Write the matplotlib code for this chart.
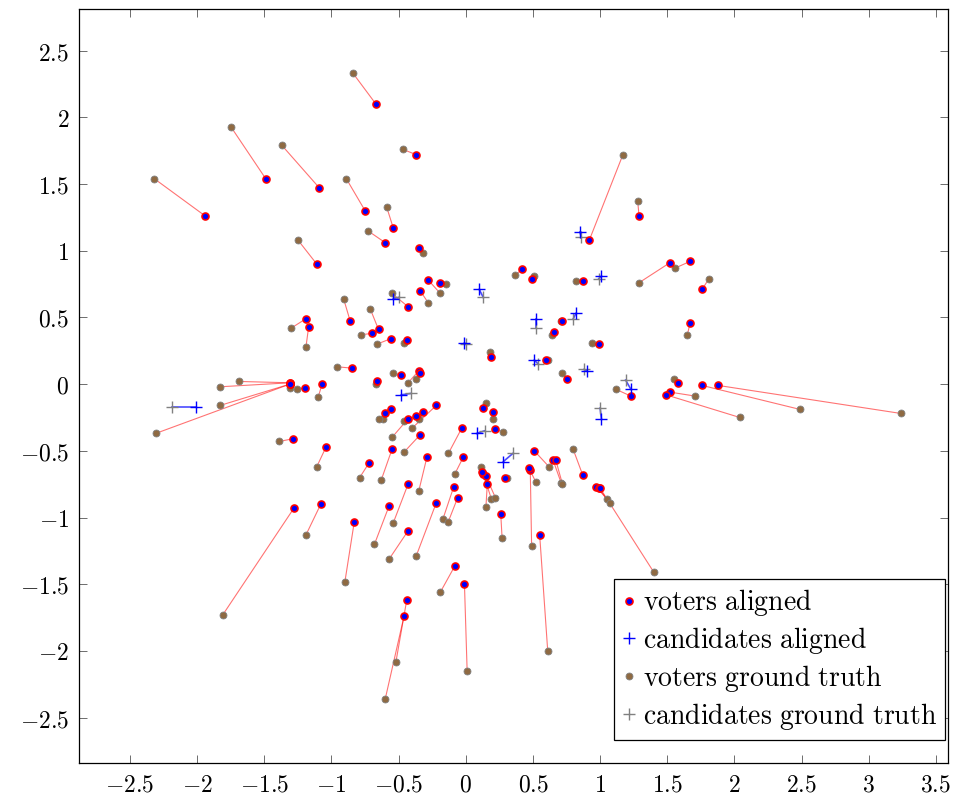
import numpy as np
import matplotlib
matplotlib.use("Agg")
import matplotlib.pyplot as plt
from matplotlib.ticker import FuncFormatter, MultipleLocator

plt.rcParams["mathtext.fontset"] = "cm"

# voters: aligned positions and ground truth positions (pairwise)
voters_aligned_x = [-1.94, -1.49, -1.09, -1.11, -0.67, -0.37, -0.75, -0.54, -0.60, -0.35,
                    -0.28, -0.19, -0.34, -0.43, -0.86, -0.65, -0.70, -0.56, -0.44, -1.19,
                    -1.17, -0.85, -1.31, -1.31, -1.31, -1.31, -1.31, -1.20, -1.07, -1.29,
                    -1.04, -1.08, -1.28, -0.48, -0.35, -0.34, -0.66, -0.56, -0.60, -0.22,
                    -0.32, -0.43, -0.37, -0.34, -0.55, -0.72, -0.29, -0.43, -0.22, -0.57,
                    -0.43, -0.83, -0.44, -0.46, -0.09, -0.06, -0.03, -0.02, -0.08, -0.01,
                    0.16, 0.13, 0.15, 0.12, 0.29, 0.26, 0.55, 0.48, 0.47, 0.51,
                    0.65, 0.67, 0.87, 0.97, 0.99, 1.00, 0.22, 0.13, 0.20, 0.19,
                    0.92, 1.29, 1.52, 1.67, 1.76, 1.67, 0.42, 0.49, 0.87, 0.66,
                    0.72, 0.99, 0.60, 0.75, 1.23, 1.58, 1.52, 1.49, 1.76, 1.88]
voters_aligned_y = [1.26, 1.54, 1.47, 0.90, 2.10, 1.72, 1.30, 1.17, 1.06, 1.02,
                    0.78, 0.76, 0.70, 0.58, 0.47, 0.41, 0.38, 0.34, 0.33, 0.49,
                    0.43, 0.12, 0.01, 0.01, 0.00, 0.00, 0.00, -0.03, 0.00, -0.41,
                    -0.47, -0.90, -0.93, 0.07, 0.10, 0.08, 0.02, -0.19, -0.22, -0.16,
                    -0.21, -0.26, -0.24, -0.38, -0.49, -0.59, -0.55, -0.75, -0.89, -0.91,
                    -1.10, -1.03, -1.62, -1.74, -0.77, -0.85, -0.33, -0.55, -1.36, -1.50,
                    -0.75, -0.67, -0.69, -0.66, -0.70, -0.97, -1.13, -0.64, -0.63, -0.50,
                    -0.57, -0.57, -0.68, -0.77, -0.78, -0.78, -0.34, -0.18, -0.21, 0.20,
                    1.08, 1.26, 0.91, 0.92, 0.71, 0.46, 0.86, 0.79, 0.77, 0.39,
                    0.47, 0.30, 0.18, 0.04, -0.09, 0.01, -0.06, -0.08, -0.01, -0.01]
voters_truth_x = [-2.32, -1.75, -1.37, -1.25, -0.84, -0.47, -0.89, -0.59, -0.73, -0.32,
                  -0.19, -0.15, -0.28, -0.55, -0.91, -0.71, -0.78, -0.66, -0.46, -1.30,
                  -1.19, -0.96, -1.69, -1.83, -1.83, -2.31, -1.31, -1.26, -1.10, -1.39,
                  -1.11, -1.19, -1.81, -0.54, -0.43, -0.37, -0.67, -0.62, -0.65, -0.40,
                  -0.35, -0.55, -0.46, -0.46, -0.63, -0.79, -0.35, -0.54, -0.37, -0.68,
                  -0.57, -0.90, -0.52, -0.60, -0.17, -0.13, -0.13, -0.08, -0.19, 0.01,
                  0.15, 0.19, 0.22, 0.11, 0.31, 0.27, 0.61, 0.49, 0.52, 0.62,
                  0.71, 0.72, 0.80, 1.05, 1.07, 1.40, 0.28, 0.15, 0.20, 0.18,
                  1.17, 1.28, 1.29, 1.56, 1.81, 1.65, 0.37, 0.51, 0.82, 0.64,
                  0.71, 0.94, 0.61, 0.72, 1.12, 1.55, 1.71, 2.04, 2.49, 3.24]
voters_truth_y = [1.54, 1.93, 1.79, 1.08, 2.33, 1.76, 1.54, 1.33, 1.15, 0.98,
                  0.68, 0.75, 0.61, 0.68, 0.64, 0.56, 0.37, 0.30, 0.31, 0.42,
                  0.28, 0.13, 0.02, -0.02, -0.16, -0.37, -0.03, -0.04, -0.10, -0.43,
                  -0.62, -1.13, -1.73, 0.08, 0.01, 0.04, 0.00, -0.26, -0.26, -0.33,
                  -0.26, -0.40, -0.28, -0.51, -0.72, -0.70, -0.80, -1.04, -1.29, -1.20,
                  -1.31, -1.48, -2.08, -2.36, -1.01, -1.03, -0.52, -0.67, -1.56, -2.15,
                  -0.92, -0.86, -0.85, -0.62, -0.70, -1.15, -2.00, -1.21, -0.73, -0.62,
                  -0.74, -0.75, -0.49, -0.86, -0.89, -1.41, -0.36, -0.14, -0.26, 0.24,
                  1.72, 1.37, 0.76, 0.87, 0.79, 0.37, 0.82, 0.81, 0.77, 0.37,
                  0.47, 0.31, 0.18, 0.08, -0.04, 0.04, -0.09, -0.25, -0.19, -0.22]

# candidates: aligned and ground truth
cand_aligned_x = [0.85, 1.01, 0.10, -0.54, 0.52, 0.82, -0.01, 0.51, 0.90, 1.23, 1.01, -0.48, 0.08, 0.28, -2.01]
cand_aligned_y = [1.14, 0.81, 0.71, 0.64, 0.49, 0.53, 0.31, 0.18, 0.10, -0.04, -0.26, -0.08, -0.37, -0.58, -0.17]
cand_truth_x = [0.86, 0.99, 0.13, -0.50, 0.52, 0.80, 0.00, 0.54, 0.88, 1.19, 1.00, -0.41, 0.14, 0.35, -2.19]
cand_truth_y = [1.10, 0.79, 0.65, 0.65, 0.42, 0.49, 0.30, 0.15, 0.11, 0.03, -0.18, -0.07, -0.35, -0.52, -0.17]

xticks = [-2.5, -2, -1.5, -1, -0.5, 0, 0.5, 1, 1.5, 2, 2.5, 3, 3.5]
yticks = [-2.5, -2, -1.5, -1, -0.5, 0, 0.5, 1, 1.5, 2, 2.5]

brown = "#8f6a42"

fig = plt.figure(figsize=(9.67, 7.99), dpi=100)
ax = fig.add_axes([0.0817, 0.045, 0.8986, 0.9435])

# connecting lines
for xa, ya, xt, yt in zip(voters_aligned_x, voters_aligned_y, voters_truth_x, voters_truth_y):
    ax.plot([xa, xt], [ya, yt], color="red", lw=0.8, alpha=0.55, zorder=1)
for xa, ya, xt, yt in zip(cand_aligned_x, cand_aligned_y, cand_truth_x, cand_truth_y):
    ax.plot([xa, xt], [ya, yt], color="blue", lw=1.2, alpha=0.7, zorder=1)

ax.plot(voters_aligned_x, voters_aligned_y, "o", ms=5, mfc="blue", mec="red", mew=1.2,
        ls="none", zorder=4, label="voters aligned")
ax.plot(cand_aligned_x, cand_aligned_y, "+", ms=9, mec="blue", mew=1.0,
        ls="none", zorder=4, label="candidates aligned")
ax.plot(voters_truth_x, voters_truth_y, "o", ms=5, mfc=brown, mec="#808080", mew=0.6,
        ls="none", zorder=3, label="voters ground truth")
ax.plot(cand_truth_x, cand_truth_y, "+", ms=9, mec="#808080", mew=1.0,
        ls="none", zorder=3, label="candidates ground truth")

ax.set_xlim(-2.88, 3.59)
ax.set_ylim(-2.84, 2.81)
ax.set_xticks(xticks)
ax.set_yticks(yticks)
fmt = FuncFormatter(lambda v, p: r"$%s$" % ("%g" % v))
ax.xaxis.set_major_formatter(fmt)
ax.yaxis.set_major_formatter(fmt)
ax.tick_params(direction="in", top=True, right=True, length=6, width=0.6,
               color="#555555", labelsize=17, pad=7)
for s in ax.spines.values():
    s.set_linewidth(0.9)

leg = ax.legend(loc="lower right", bbox_to_anchor=(0.997, 0.03), borderaxespad=0,
                fancybox=False, edgecolor="black", framealpha=1,
                handlelength=0.5, handletextpad=0.25, borderpad=0.3, labelspacing=0.25,
                prop={"family": "serif", "size": 20})
leg.get_frame().set_linewidth(0.9)
for t in leg.get_texts():
    t.set_text(r"$\mathrm{%s}$" % t.get_text().replace(" ", r"\ "))

fig.savefig("out.png", dpi=100)
